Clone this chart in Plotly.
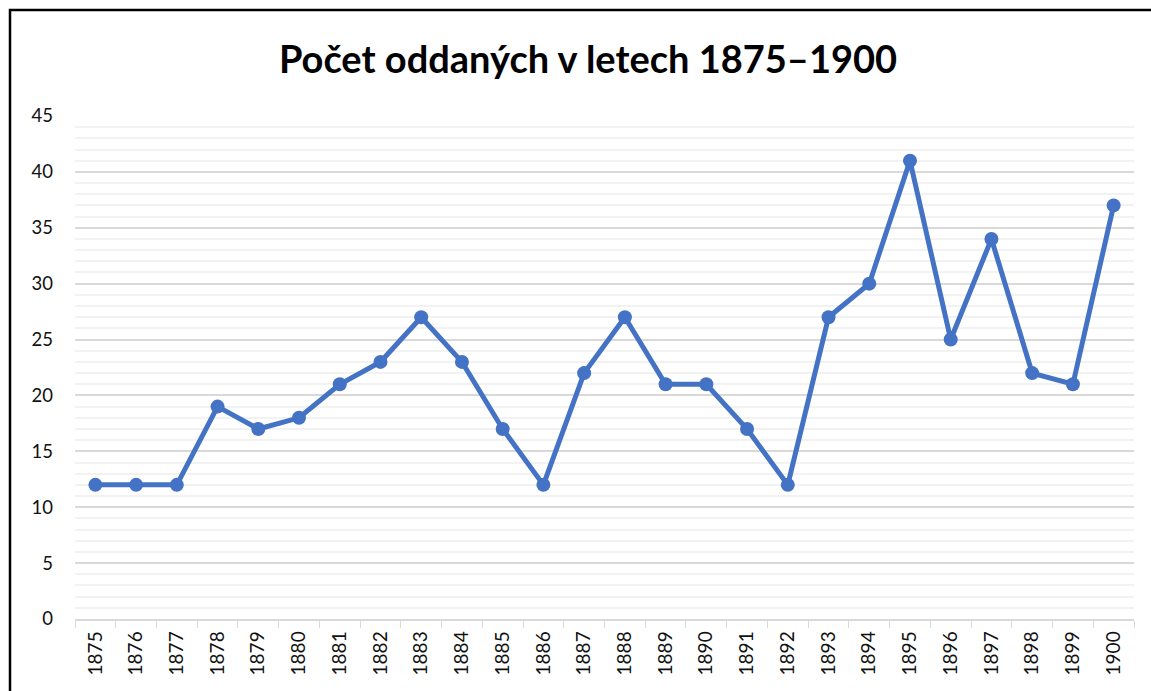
import plotly.graph_objects as go

years = [str(y) for y in range(1875, 1901)]
values = [12, 12, 12, 19, 17, 18, 21, 23, 27, 23, 17, 12, 22, 27, 21, 21, 17, 12, 27, 30, 41, 25, 34, 22, 21, 37]
title_text = "Počet oddaných v letech 1875–1900"

W, H = 1151, 691
L, R, T, B = 75, 17, 116, 72
pw, ph = W - L - R, H - T - B

def px_x(p):
    return (p - L) / pw

def px_y(p):
    return 1 - (p - T) / ph

fig = go.Figure(go.Scatter(
    x=years, y=values, mode="lines+markers",
    line=dict(color="#4472C4", width=5),
    marker=dict(color="#4472C4", size=14),
    hoverinfo="x+y",
))

fig.update_layout(
    width=W, height=H,
    margin=dict(l=L, r=R, t=T, b=B),
    paper_bgcolor="white", plot_bgcolor="white",
    font=dict(family="Lato, Open Sans, sans-serif", color="#111111", size=18),
    showlegend=False,
    title=dict(text=f"<b>{title_text}</b>", x=588 / W, xref="container",
               y=1 - 60 / H, yref="container", xanchor="center", yanchor="middle",
               font=dict(size=38, family="Lato, Open Sans, sans-serif", color="#000000")),
    xaxis=dict(type="category", tickson="boundaries", ticks="outside", ticklen=7,
               tickcolor="#d9d9d9", showline=True, linecolor="#d9d9d9", linewidth=1.5,
               showgrid=False, tickangle=-90, tickfont=dict(size=19),
               ticklabelstandoff=3,
               range=[-0.5, len(years) - 0.5], fixedrange=True),
    yaxis=dict(range=[0, 45], dtick=5, tick0=0, showline=False, zeroline=False,
               gridcolor="#d9d9d9", gridwidth=1.5, ticks="", ticklabelstandoff=21,
               tickfont=dict(size=18.5),
               minor=dict(dtick=1, showgrid=True, gridcolor="#f2f2f2", gridwidth=1.5),
               fixedrange=True),
    shapes=[dict(type="rect", xref="paper", yref="paper",
                 x0=px_x(10), x1=px_x(1300), y0=px_y(900), y1=px_y(10),
                 line=dict(color="black", width=2.5), layer="below")],
)

fig.write_html("out.html", config={"displayModeBar": False},
               post_script="document.body.style.margin='0';document.body.style.overflow='hidden';")
